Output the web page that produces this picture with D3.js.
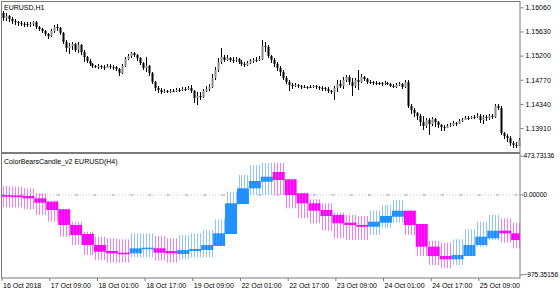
<!DOCTYPE html>
<html lang="en">
<head>
<meta charset="UTF-8">
<title>EURUSD,H1 - ColorBearsCandle_v2</title>
<script src="https://d3js.org/d3.v7.min.js"></script>
<style>
body { margin: 0; background: #fff; }
svg text { font-family: "Liberation Sans", Arial, sans-serif; font-size: 7px; fill: #000; }
</style>
</head>
<body>
<div id="container"></div>
<script>
// EURUSD H1 candles (open of each bar = previous close)
const firstOpen = 1.15959;
const closes = [
  1.15870,1.15905,1.15852,1.15816,1.15798,1.15781,1.15763,1.15763,1.15745,1.15763,
  1.15798,1.15709,1.15674,1.15638,1.15585,1.15549,1.15638,1.15709,1.15692,1.15603,
  1.15442,1.15336,1.15371,1.15407,1.15300,1.15389,1.15264,1.15175,1.15104,1.15051,
  1.15015,1.14997,1.15015,1.14997,1.14980,1.15015,1.14997,1.14997,1.14962,1.14891,
  1.15015,1.15140,1.15193,1.15247,1.15211,1.15158,1.15069,1.14980,1.15015,1.14891,
  1.14730,1.14624,1.14588,1.14552,1.14570,1.14552,1.14570,1.14570,1.14588,1.14588,
  1.14606,1.14606,1.14624,1.14570,1.14446,1.14481,1.14463,1.14570,1.14606,1.14641,
  1.14802,1.14944,1.15086,1.15175,1.15122,1.15158,1.15122,1.15122,1.15140,1.15086,
  1.15051,1.15033,1.15069,1.15104,1.15122,1.15122,1.15140,1.15371,1.15353,1.15193,
  1.15122,1.15051,1.14980,1.14908,1.14802,1.14730,1.14677,1.14659,1.14677,1.14659,
  1.14641,1.14641,1.14641,1.14641,1.14659,1.14641,1.14624,1.14624,1.14606,1.14570,
  1.14552,1.14624,1.14695,1.14659,1.14766,1.14819,1.14730,1.14659,1.14766,1.14730,
  1.14819,1.14784,1.14730,1.14730,1.14713,1.14713,1.14713,1.14695,1.14713,1.14695,
  1.14659,1.14641,1.14677,1.14695,1.14641,1.14730,1.14303,1.14232,1.14179,1.14125,
  1.14018,1.13947,1.14054,1.13983,1.14072,1.14018,1.13965,1.13929,1.13912,1.13947,
  1.13965,1.14001,1.13983,1.14036,1.14054,1.14090,1.14090,1.14107,1.14107,1.14125,
  1.14054,1.14107,1.14090,1.14125,1.14107,1.14303,1.14268,1.13823,1.13769,1.13734,
  1.13645,1.13609,1.13591,1.13698
];
const highs = [
  1.15994,1.15959,1.15923,1.15887,1.15852,1.15816,1.15816,1.15798,1.15798,1.15798,
  1.15816,1.15816,1.15727,1.15692,1.15656,1.15603,1.15674,1.15745,1.15763,1.15709,
  1.15620,1.15478,1.15425,1.15442,1.15425,1.15442,1.15407,1.15300,1.15193,1.15140,
  1.15069,1.15033,1.15051,1.15033,1.15033,1.15051,1.15051,1.15033,1.15015,1.14980,
  1.15051,1.15175,1.15229,1.15264,1.15264,1.15229,1.15175,1.15086,1.15175,1.15033,
  1.14908,1.14748,1.14659,1.14624,1.14606,1.14588,1.14606,1.14606,1.14624,1.14624,
  1.14641,1.14641,1.14659,1.14677,1.14588,1.14552,1.14552,1.14606,1.14659,1.14695,
  1.14873,1.14997,1.15158,1.15336,1.15211,1.15211,1.15175,1.15175,1.15175,1.15158,
  1.15122,1.15086,1.15104,1.15140,1.15158,1.15175,1.15193,1.15478,1.15442,1.15389,
  1.15211,1.15158,1.15086,1.15015,1.14944,1.14837,1.14766,1.14713,1.14713,1.14695,
  1.14677,1.14677,1.14659,1.14677,1.14677,1.14677,1.14659,1.14659,1.14641,1.14641,
  1.14588,1.14659,1.14766,1.14766,1.14819,1.14855,1.14855,1.14802,1.14802,1.14944,
  1.14873,1.14837,1.14802,1.14766,1.14748,1.14748,1.14730,1.14730,1.14748,1.14730,
  1.14713,1.14695,1.14713,1.14730,1.14713,1.14766,1.14766,1.14339,1.14268,1.14196,
  1.14161,1.14125,1.14090,1.14090,1.14107,1.14090,1.14036,1.13983,1.13965,1.13983,
  1.14001,1.14036,1.14018,1.14072,1.14090,1.14125,1.14125,1.14125,1.14143,1.14179,
  1.14161,1.14143,1.14143,1.14161,1.14161,1.14339,1.14339,1.14303,1.13840,1.13805,
  1.13769,1.13680,1.13662,1.13734
];
const lows = [
  1.15816,1.15816,1.15798,1.15763,1.15745,1.15727,1.15727,1.15709,1.15709,1.15709,
  1.15727,1.15674,1.15638,1.15603,1.15549,1.15496,1.15531,1.15603,1.15638,1.15567,
  1.15407,1.15264,1.15229,1.15300,1.15264,1.15247,1.15211,1.15086,1.15069,1.15015,
  1.14980,1.14980,1.14962,1.14962,1.14944,1.14980,1.14962,1.14944,1.14926,1.14837,
  1.14873,1.14997,1.15122,1.15158,1.15175,1.15104,1.15033,1.14944,1.14908,1.14837,
  1.14695,1.14570,1.14535,1.14517,1.14535,1.14535,1.14535,1.14552,1.14552,1.14552,
  1.14570,1.14570,1.14588,1.14535,1.14357,1.14321,1.14410,1.14446,1.14552,1.14570,
  1.14624,1.14766,1.14908,1.15051,1.15086,1.15104,1.15086,1.15069,1.15086,1.15051,
  1.15015,1.14997,1.15015,1.15051,1.15069,1.15086,1.15104,1.15122,1.15264,1.15158,
  1.15069,1.14997,1.14926,1.14837,1.14766,1.14695,1.14570,1.14606,1.14641,1.14624,
  1.14606,1.14624,1.14606,1.14624,1.14624,1.14606,1.14588,1.14570,1.14570,1.14535,
  1.14517,1.14410,1.14552,1.14624,1.14606,1.14730,1.14677,1.14481,1.14624,1.14588,
  1.14713,1.14748,1.14695,1.14695,1.14677,1.14677,1.14677,1.14659,1.14677,1.14677,
  1.14641,1.14624,1.14624,1.14659,1.14606,1.14624,1.14268,1.14161,1.14107,1.14054,
  1.13947,1.13876,1.13912,1.13787,1.13947,1.13929,1.13912,1.13858,1.13858,1.13912,
  1.13929,1.13947,1.13947,1.13983,1.14018,1.14054,1.14054,1.14072,1.14072,1.14090,
  1.14001,1.13983,1.14036,1.14054,1.14072,1.14090,1.14232,1.13787,1.13716,1.13662,
  1.13591,1.13556,1.13556,1.13591
];

// ColorBearsCandle_v2 on H4: one candle per 4 hourly bars (first one is partial)
const h4FirstBar = 3;
const h4Open = [-6.5,-12,-18.7,-46.8,-88.3,-181.2,-373,-483,-617.4,-690.7,-711.5,-718.8,-666.2,-657.7,-690.7,-727.3,-690.7,-678.5,-629.6,-483,-116.4,75.4,156,274.5,185.3,14.3,-107.9,-189.7,-250.8,-344.9,-373,-393.8,-344.9,-271.6,-198.3,-360.8,-638.2,-751.8,-792.1,-751.8,-617.4,-535.5,-442.7,-474.4];
const h4High = [103.5,97.4,75.4,14.3,-76.1,-175,-332.7,-454.9,-516,-535.5,-547.7,-474.4,-474.4,-507.4,-535.5,-495.2,-474.4,-434.1,-303.4,33.8,237.9,360.1,384.5,384.5,185.3,21.6,-59,-107.9,-222.7,-250.8,-263,-198.3,-128.7,-67.6,-198.3,-360.8,-564.8,-589.3,-547.7,-425.5,-332.7,-250.8,-291.2,-344.9];
const h4Low = [-156.8,-159.2,-181.2,-250.8,-332.7,-516,-617.4,-739.6,-800.6,-833.6,-833.6,-767.7,-767.7,-809.2,-833.6,-792.1,-767.7,-767.7,-629.6,-483,-116.4,-6.5,-6.5,-6.5,-169,-291.2,-352.2,-442.7,-535.5,-556.3,-556.3,-495.2,-413.3,-344.9,-495.2,-751.8,-861.7,-902,-861.7,-751.8,-638.2,-556.3,-589.3,-657.7];
const h4Close = [-27.2,-32,-46.8,-100.6,-189.7,-373,-495.2,-617.4,-699.2,-718.8,-723.7,-657.7,-650.4,-711.5,-718.8,-678.5,-666.2,-617.4,-474.4,-107.9,75.4,164.6,217.1,176.8,-6.5,-107.9,-198.3,-263,-352.2,-373,-393.8,-332.7,-263,-198.3,-373,-638.2,-751.8,-792.1,-739.6,-617.4,-516,-442.7,-474.4,-556.3];

const priceTicks = [1.16060, 1.15630, 1.15200, 1.14770, 1.14340, 1.13910];
const indTicks = [473.73136, 0, -975.35156];
const timeTickBars = [0, 16, 32, 48, 64, 80, 96, 112, 128, 144, 160];
const timeLabels = ["16 Oct 2018","17 Oct 09:00","18 Oct 01:00","18 Oct 17:00","19 Oct 09:00",
  "22 Oct 01:00","22 Oct 17:00","23 Oct 09:00","24 Oct 01:00","24 Oct 17:00","25 Oct 09:00"];

const width = 560, height = 294;
const right = 520;
const svg = d3.select("#container").append("svg")
  .attr("width", width).attr("height", height);

const x = d3.scaleLinear().domain([0, closes.length - 1]).range([3.1, 518.6]);
const yPrice = d3.scaleLinear().domain([1.13910, 1.16060]).range([128.1, 7.3]);
const yInd = d3.scaleLinear().domain([-975.35156, 473.73136]).range([274.3, 155.7]);

const bars = closes.map((c, i) => ({
  i, o: i ? closes[i - 1] : firstOpen, h: highs[i], l: lows[i], c
}));

// main window candles
const main = svg.append("g");
main.selectAll("line.wick").data(bars).join("line")
  .attr("class", "wick")
  .attr("x1", d => Math.round(x(d.i)) + 0.5).attr("x2", d => Math.round(x(d.i)) + 0.5)
  .attr("y1", d => yPrice(d.h)).attr("y2", d => yPrice(d.l))
  .attr("stroke", "#000").attr("stroke-width", 1);
main.selectAll("rect").data(bars).join("rect")
  .attr("x", d => Math.round(x(d.i)) - 0.5)
  .attr("width", 2)
  .attr("y", d => yPrice(Math.max(d.o, d.c)))
  .attr("height", d => Math.max(1, Math.abs(yPrice(d.o) - yPrice(d.c))))
  .attr("fill", d => d.c > d.o ? "#8a8a8a" : "#000");

svg.append("text").attr("x", 4).attr("y", 10).text("EURUSD,H1");

// indicator window
const h4Index = i => i < h4FirstBar ? 0 : 1 + Math.floor((i - h4FirstBar) / 4);
const ind = bars.map(d => {
  const k = h4Index(d.i);
  return { i: d.i, o: h4Open[k], h: h4High[k], l: h4Low[k], c: h4Close[k], up: h4Close[k] >= h4Open[k] };
});
const sub = svg.append("g");

// zero level (dash-dot)
sub.append("line")
  .attr("x1", 2).attr("x2", right).attr("y1", yInd(0) + 0.5).attr("y2", yInd(0) + 0.5)
  .attr("stroke", "#c8c8c8").attr("stroke-dasharray", "1,2");
sub.append("line")
  .attr("x1", 2).attr("x2", right).attr("y1", yInd(0) + 0.5).attr("y2", yInd(0) + 0.5)
  .attr("stroke", "#e070e0").attr("stroke-dasharray", "3,15.3");

sub.selectAll("line.iwick").data(ind).join("line")
  .attr("class", "iwick")
  .attr("x1", d => Math.round(x(d.i)) + 0.5).attr("x2", d => Math.round(x(d.i)) + 0.5)
  .attr("y1", d => yInd(d.h)).attr("y2", d => yInd(d.l))
  .attr("stroke", d => d.up ? "#8cc6fa" : "#f47cf4").attr("stroke-width", 1);
sub.selectAll("rect").data(ind).join("rect")
  .attr("x", d => x(d.i) - 1.5)
  .attr("width", 3)
  .attr("y", d => yInd(Math.max(d.o, d.c)))
  .attr("height", d => Math.max(1.5, Math.abs(yInd(d.o) - yInd(d.c))))
  .attr("fill", d => d.up ? "#1e90ff" : "#ff00ff");

svg.append("text").attr("x", 4).attr("y", 164).text("ColorBearsCandle_v2 EURUSD(H4)");

// frames
svg.append("rect").attr("x", 1.5).attr("y", 1.5).attr("width", right - 1.5).attr("height", 151)
  .attr("fill", "none").attr("stroke", "#7a7a7a");
svg.append("rect").attr("x", 1.5).attr("y", 153.5).attr("width", right - 1.5).attr("height", 124.5)
  .attr("fill", "none").attr("stroke", "#7a7a7a");

// axes
const fmt = d3.format(".5f");
const pAxis = svg.append("g").attr("transform", `translate(${right + 0.5},0)`)
  .call(d3.axisRight(yPrice).tickValues(priceTicks).tickSize(3).tickPadding(2).tickFormat(fmt));
const iAxis = svg.append("g").attr("transform", `translate(${right + 0.5},0)`)
  .call(d3.axisRight(yInd).tickValues(indTicks).tickSize(3).tickPadding(0).tickFormat(fmt));
const tAxis = svg.append("g").attr("transform", "translate(-1.5,278)")
  .call(d3.axisBottom(x).tickValues(timeTickBars).tickSize(3).tickPadding(2)
    .tickFormat((d, i) => timeLabels[i]));
[pAxis, iAxis, tAxis].forEach(a => {
  a.select(".domain").remove();
  a.selectAll("line").attr("stroke", "#7a7a7a");
  a.selectAll("text").attr("font-family", null).attr("font-size", null).attr("fill", "#000");
});
tAxis.selectAll("text").attr("text-anchor", "start").attr("dx", "1");
iAxis.selectAll("text").style("font-size", "6.7px").style("letter-spacing", "-0.1px");
</script>
</body>
</html>
